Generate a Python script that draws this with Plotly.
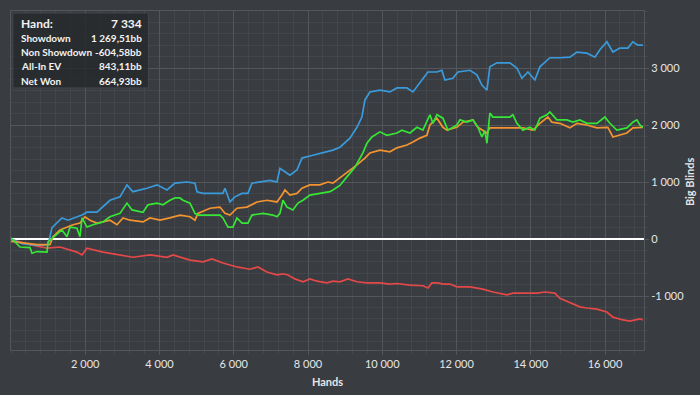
import plotly.graph_objects as go

# ---- data (hands, big blinds) ----
showdown_hands = [0, 300, 700, 1000, 1104, 1373, 1535, 1777, 1912, 2047, 2316, 2666, 2935, 3124, 3285, 3662, 3932, 4201, 4282, 4417, 4740, 4955, 5009, 5171, 5709, 5763, 5898, 6032, 6221, 6382, 6490, 6706, 6975, 7163, 7244, 7379, 7513, 7702, 7837, 8133, 8402, 8671, 8860, 9129, 9318, 9452, 9533, 9668, 9937, 10206, 10395, 10664, 10826, 11014, 11230, 11472, 11607, 11688, 11903, 12038, 12361, 12549, 12684, 12819, 12899, 13088, 13438, 13627, 13761, 13923, 14111, 14246, 14515, 14785, 15054, 15242, 15512, 15727, 15862, 16050, 16212, 16400, 16615, 16750, 16885, 17020]
showdown_bb = [0, -80, -110, -100, 200, 370, 330, 390, 420, 470, 470, 680, 740, 950, 830, 890, 950, 860, 900, 980, 1000, 980, 830, 800, 800, 890, 650, 740, 800, 800, 980, 1000, 1030, 1000, 1240, 1180, 1120, 1210, 1420, 1470, 1510, 1560, 1610, 1770, 1960, 2140, 2440, 2580, 2610, 2580, 2650, 2650, 2580, 2740, 2930, 2930, 2960, 2790, 2820, 2930, 2960, 2880, 2700, 2610, 3020, 3090, 3090, 3000, 2820, 2930, 2790, 3020, 3180, 3180, 3190, 3280, 3260, 3190, 3320, 3460, 3280, 3350, 3350, 3460, 3400, 3400]

netwon_hands = [0, 242, 512, 566, 700, 970, 996, 1131, 1373, 1508, 1589, 1777, 1858, 1912, 2047, 2208, 2478, 2666, 2935, 3124, 3259, 3555, 3689, 3932, 4093, 4282, 4417, 4551, 4632, 4820, 4955, 5036, 5628, 5709, 5844, 5978, 6086, 6221, 6382, 6490, 6786, 7056, 7163, 7244, 7325, 7433, 7594, 7729, 7864, 8052, 8321, 8591, 8671, 8860, 9048, 9264, 9479, 9587, 9722, 9937, 10126, 10395, 10530, 10745, 10934, 11095, 11284, 11364, 11472, 11634, 11768, 12011, 12092, 12280, 12442, 12576, 12684, 12765, 12819, 12899, 12980, 13438, 13519, 13627, 13788, 13977, 14111, 14246, 14434, 14515, 14704, 14973, 15135, 15323, 15512, 15781, 15996, 16131, 16319, 16589, 16750, 16858, 16939, 17020]
netwon_bb = [20, -140, -150, -250, -220, -230, -50, 20, 160, 40, 210, 190, 40, 370, 210, 250, 300, 390, 450, 630, 510, 470, 600, 630, 600, 680, 720, 720, 680, 630, 450, 420, 420, 370, 210, 210, 370, 280, 280, 420, 450, 420, 390, 450, 680, 560, 510, 630, 680, 770, 800, 830, 860, 940, 1090, 1260, 1510, 1680, 1790, 1880, 1820, 1860, 1910, 1860, 1960, 1910, 2180, 2030, 2180, 2120, 1910, 2000, 2090, 2050, 2090, 1960, 1790, 1900, 1680, 2210, 2140, 2140, 2180, 2030, 1910, 1960, 1910, 2120, 2180, 2230, 2090, 2090, 2050, 2090, 2030, 2030, 2140, 2030, 1910, 1950, 2050, 2090, 2000, 1960]

allin_hands = [0, 300, 700, 1050, 1131, 1320, 1508, 1670, 1858, 1993, 2127, 2316, 2478, 2666, 2855, 3016, 3205, 3555, 3743, 4013, 4282, 4551, 4820, 4955, 5036, 5359, 5628, 5763, 5898, 6086, 6355, 6625, 6894, 7163, 7298, 7379, 7513, 7702, 7837, 8052, 8321, 8537, 8671, 9048, 9318, 9533, 9668, 9937, 10206, 10395, 10664, 10826, 11014, 11203, 11284, 11472, 11634, 11741, 12011, 12172, 12442, 12576, 12684, 12819, 12899, 13519, 13788, 14058, 14246, 14461, 14569, 14785, 15054, 15242, 15512, 15781, 16077, 16212, 16400, 16589, 16750, 16939, 17020]
allin_bb = [-40, -70, -100, -100, 40, 160, 210, 250, 280, 390, 330, 280, 300, 330, 250, 370, 330, 300, 370, 330, 370, 420, 390, 330, 450, 540, 560, 450, 420, 540, 560, 650, 680, 650, 770, 860, 770, 800, 890, 950, 950, 1000, 980, 1160, 1300, 1420, 1510, 1560, 1530, 1600, 1650, 1700, 1770, 1820, 2000, 2120, 1960, 1910, 1960, 2050, 2090, 1960, 1910, 1860, 1950, 1950, 1950, 1910, 2030, 2140, 2050, 2030, 1950, 2030, 2000, 1950, 1960, 1790, 1820, 1860, 1950, 1960, 1960]

nonsd_hands = [0, 54, 512, 970, 1320, 1777, 1912, 2047, 2478, 2935, 3285, 3743, 4201, 4363, 4551, 4820, 5171, 5413, 5709, 6086, 6436, 6652, 6894, 7163, 7325, 7460, 7648, 7864, 8052, 8241, 8510, 8671, 8860, 9075, 9318, 9587, 9937, 10206, 10395, 10745, 11095, 11230, 11337, 11499, 11634, 11822, 12011, 12361, 12711, 12980, 13357, 13519, 13896, 14165, 14381, 14650, 14785, 15054, 15323, 15512, 15781, 16050, 16212, 16481, 16669, 16939, 17020]
nonsd_bb = [0, -20, -100, -160, -140, -230, -280, -160, -230, -280, -320, -280, -320, -280, -320, -370, -400, -350, -420, -490, -530, -490, -580, -630, -610, -630, -700, -750, -700, -740, -770, -740, -750, -700, -750, -770, -770, -790, -780, -810, -820, -860, -770, -770, -790, -790, -840, -840, -880, -930, -980, -950, -950, -950, -930, -950, -1040, -1120, -1190, -1210, -1230, -1280, -1370, -1420, -1440, -1400, -1420]

x_tick_vals = [2000, 4000, 6000, 8000, 10000, 12000, 14000, 16000]
x_tick_text = ["2 000", "4 000", "6 000", "8 000", "10 000", "12 000", "14 000", "16 000"]
y_tick_vals = [-1000, 0, 1000, 2000, 3000]
y_tick_text = ["-1 000", "0", "1 000", "2 000", "3 000"]

info_labels = ["Hand:", "Showdown", "Non Showdown", "All-In EV", "Net Won"]
info_values = ["7 334", "1 269,51bb", "-604,58bb", "843,11bb", "664,93bb"]

BG = "#393c40"
GRID_MINOR = "#43474b"
GRID_MAJOR = "#53575b"
TXT = "#e6e6e6"
FONT = "Lato, Noto Sans, DejaVu Sans, sans-serif"

fig = go.Figure()
series = [
    (nonsd_hands, nonsd_bb, "#e54848", "Non Showdown"),
    (showdown_hands, showdown_bb, "#3a9bdc", "Showdown"),
    (allin_hands, allin_bb, "#f39430", "All-In EV"),
    (netwon_hands, netwon_bb, "#36e636", "Net Won"),
]
for hx, hy, col, name in series:
    fig.add_trace(go.Scatter(x=hx, y=hy, mode="lines", name=name,
                             line=dict(color=col, width=1.7), hoverinfo="skip"))

fig.update_layout(
    width=700, height=395,
    margin=dict(l=11, r=56, t=11, b=45),
    paper_bgcolor=BG, plot_bgcolor=BG,
    showlegend=False,
    font=dict(family=FONT, color=TXT, size=11),
    xaxis=dict(
        range=[0, 17050], tickmode="array", tickvals=x_tick_vals, ticktext=x_tick_text,
        showgrid=True, gridcolor=GRID_MAJOR, gridwidth=1, automargin=False,
        ticks="outside", ticklen=4, tickcolor=GRID_MAJOR,
        showline=True, linecolor=GRID_MAJOR, mirror=True, zeroline=False,
        minor=dict(tickmode="linear", tick0=0, dtick=400, showgrid=True, gridcolor=GRID_MINOR,
                   ticks="outside", ticklen=3, tickcolor=GRID_MINOR),
        title=dict(text="<b>Hands</b>", font=dict(size=11, color=TXT), standoff=9),
        tickfont=dict(size=11, color=TXT),
    ),
    yaxis=dict(
        range=[-1947, 4000], side="right", tickmode="array", tickvals=y_tick_vals, ticktext=y_tick_text,
        showgrid=True, gridcolor=GRID_MAJOR, gridwidth=1, automargin=False,
        ticks="outside", ticklen=4, tickcolor=GRID_MAJOR,
        showline=True, linecolor=GRID_MAJOR, mirror=True,
        zeroline=True, zerolinecolor="#ffffff", zerolinewidth=2,
        minor=dict(tickmode="linear", tick0=0, dtick=200, showgrid=True, gridcolor=GRID_MINOR,
                   ticks="outside", ticklen=3, tickcolor=GRID_MINOR),
        tickfont=dict(size=11, color=TXT),
    ),
)

# y-axis title placed explicitly at the right edge
fig.add_annotation(xref="paper", yref="paper", x=1.073, y=0.496, text="<b>Big Blinds</b>",
                   textangle=-90, showarrow=False, xanchor="center", yanchor="middle",
                   font=dict(size=11, color=TXT, family=FONT))

# info box (hover-style panel)
fig.add_shape(type="rect", xref="paper", yref="paper", x0=0.003, x1=0.217, y0=0.773, y1=0.994,
              fillcolor="rgba(38,40,43,0.8)", line=dict(color="rgba(70,74,78,0.9)", width=1), layer="above")
row_y = [0.962, 0.920, 0.879, 0.838, 0.794]
for i, (lab, val) in enumerate(zip(info_labels, info_values)):
    sz = 12 if i == 0 else 10
    fig.add_annotation(xref="paper", yref="paper", x=0.012, y=row_y[i], text="<b>%s</b>" % lab,
                       showarrow=False, xanchor="left", yanchor="middle",
                       font=dict(size=sz, color="#f2f2f2", family=FONT))
    fig.add_annotation(xref="paper", yref="paper", x=0.210, y=row_y[i], text="<b>%s</b>" % val,
                       showarrow=False, xanchor="right", yanchor="middle",
                       font=dict(size=sz, color="#f2f2f2", family=FONT))

fig.write_html("out.html", config={"displayModeBar": False},
               post_script="document.body.style.margin='0';document.body.style.padding='0';")
